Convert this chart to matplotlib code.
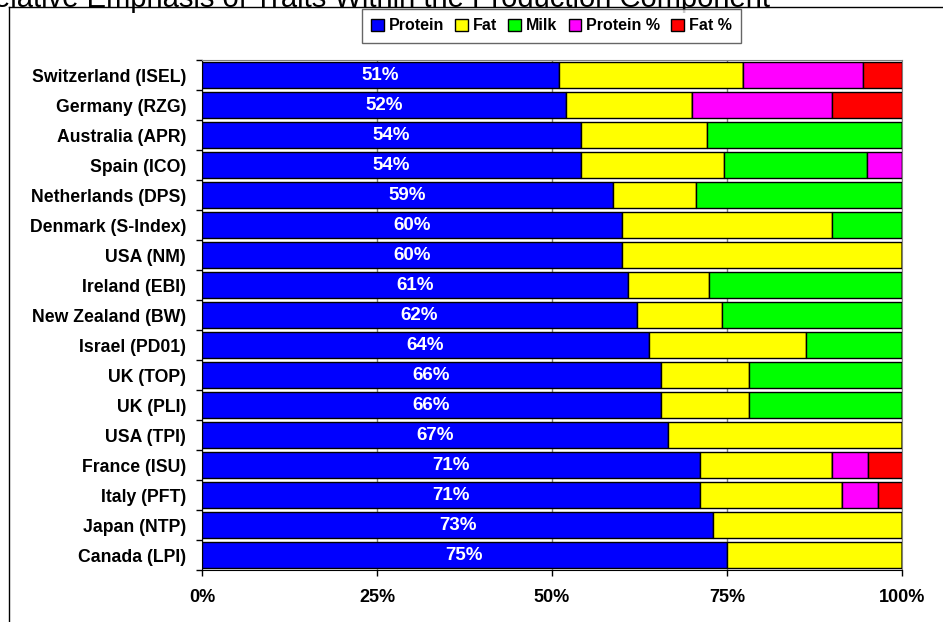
import matplotlib
matplotlib.use("Agg")
import matplotlib.pyplot as plt
from matplotlib.lines import Line2D
import numpy as np

plt.rcParams['font.family'] = ['Liberation Sans', 'DejaVu Sans']

# top to bottom as shown in the chart
countries = ["Switzerland (ISEL)", "Germany (RZG)", "Australia (APR)", "Spain (ICO)",
             "Netherlands (DPS)", "Denmark (S-Index)", "USA (NM)", "Ireland (EBI)",
             "New Zealand (BW)", "Israel (PD01)", "UK (TOP)", "UK (PLI)", "USA (TPI)",
             "France (ISU)", "Italy (PFT)", "Japan (NTP)", "Canada (LPI)"]
protein = [51, 52, 54.1, 54.1, 58.7, 60, 60, 60.9, 62.1, 63.8, 65.6, 65.6, 66.6, 71.1, 71.1, 73, 75]
fat = [26.3, 18, 18.1, 20.5, 11.9, 30, 40, 11.5, 12.2, 22.5, 12.5, 12.5, 33.4, 18.9, 20.3, 27, 25]
milk = [0, 0, 27.8, 20.4, 29.4, 10, 0, 27.6, 25.7, 13.7, 21.9, 21.9, 0, 0, 0, 0, 0]
protein_pct = [17.1, 20, 0, 5.0, 0, 0, 0, 0, 0, 0, 0, 0, 0, 5.1, 5.2, 0, 0]
fat_pct = [5.6, 10, 0, 0, 0, 0, 0, 0, 0, 0, 0, 0, 0, 4.9, 3.4, 0, 0]

series_names = ["Protein", "Fat", "Milk", "Protein %", "Fat %"]
series_colors = ["#0000FF", "#FFFF00", "#00FF00", "#FF00FF", "#FF0000"]
ticks = [0, 25, 50, 75, 100]
title = "Relative Emphasis of Traits Within the Production Component"

W, H = 943, 622
fig = plt.figure(figsize=(W / 100, H / 100), dpi=100)
ax = fig.add_axes([202 / W, (H - 570) / H, 700 / W, 510 / H])

y = np.arange(len(countries))
left = np.zeros(len(countries))
for vals, name, col in zip([protein, fat, milk, protein_pct, fat_pct], series_names, series_colors):
    vals = np.array(vals, dtype=float)
    ax.barh(y, vals, left=left, height=0.86, color=col, edgecolor="black",
            linewidth=1.0, label=name, zorder=3)
    left += vals

# percent labels in the protein segment
for yi, p in zip(y, protein):
    ax.text(p / 2, yi, f"{p:.0f}%", color="white", fontsize=13.5, fontweight="bold",
            ha="center", va="center", zorder=4)

ax.set_xlim(0, 100)
ax.set_ylim(len(countries) - 0.5, -0.5)
ax.set_xticks(ticks)
ax.set_xticklabels([f"{t}%" for t in ticks], fontsize=13, fontweight="bold")
ax.set_yticks(y)
ax.set_yticklabels(countries, fontsize=12.7, fontweight="bold")
ax.set_yticks(np.arange(len(countries) + 1) - 0.5, minor=True)
ax.tick_params(axis="y", which="major", length=0, pad=11.5)
ax.tick_params(axis="y", which="minor", length=4, width=1, color="black")
ax.tick_params(axis="x", length=4, width=1, pad=10)
ax.xaxis.grid(True, color="#808080", linewidth=1, zorder=0)
ax.set_axisbelow(True)

for s in ["top", "right"]:
    ax.spines[s].set_color("#808080")
for s in ["left", "bottom"]:
    ax.spines[s].set_color("black")

# legend at the top
leg = fig.legend(loc="center", bbox_to_anchor=((365 + 738) / 2 / W, 1 - 26 / H), ncol=5,
                 frameon=True, fancybox=False, handlelength=0.8, handleheight=0.8,
                 handletextpad=0.3, columnspacing=0.7, borderpad=0.6,
                 prop={"weight": "bold", "size": 11.5})
leg.get_frame().set_edgecolor("#404040")
leg.get_frame().set_linewidth(1)

# outer chart border (only left and top visible)
fig.add_artist(Line2D([9 / W, 9 / W], [0, 1 - 7 / H], transform=fig.transFigure,
                      color="black", linewidth=1))
fig.add_artist(Line2D([9 / W, 1], [1 - 7 / H, 1 - 7 / H], transform=fig.transFigure,
                      color="black", linewidth=1))

# clipped title at the very top
fig.text(770 / W, 1 - 7 / H, title, ha="right", va="baseline", fontsize=21)

fig.savefig("out.png", dpi=100)
